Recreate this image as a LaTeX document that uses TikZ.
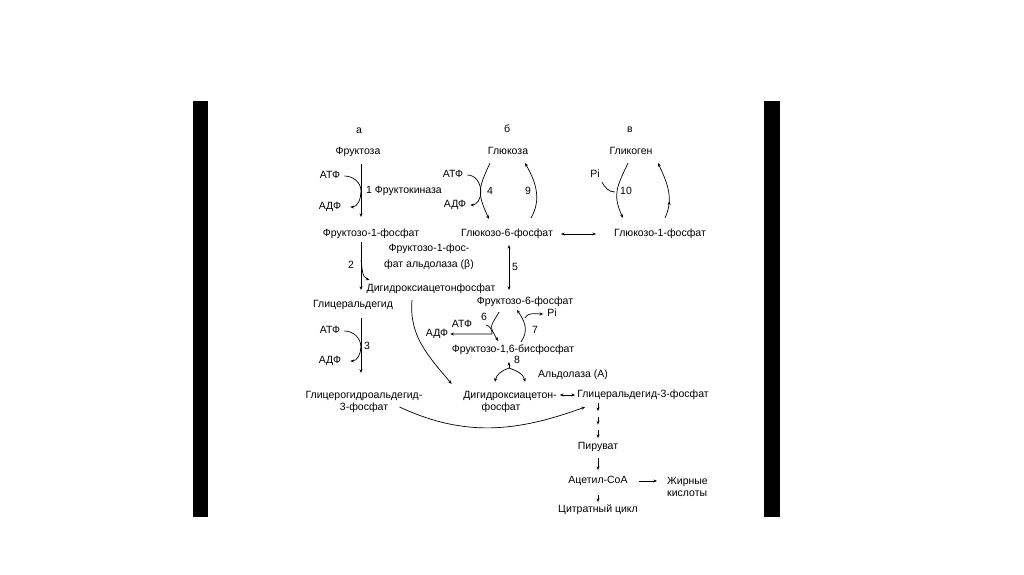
\documentclass[tikz,border=0pt]{standalone}
\usepackage{fontspec}
\setmainfont{Liberation Sans}
\usetikzlibrary{arrows.meta,decorations.markings}

\begin{document}
\begin{tikzpicture}[
	x=1pt,y=1pt,
	every node/.style={font=\fontsize{10.5}{12.5}\selectfont,inner sep=2pt,text height=7.5pt,text depth=2.2pt},
	two/.style={align=center,text height={},text depth={}},
	mtip/.tip={Stealth[length=3.6pt,width=3pt]},
	arr/.style={-mtip,line width=0.7pt},
	dbl/.style={mtip-mtip,line width=0.7pt},
	ln/.style={line width=0.7pt},
	midtip/.style={postaction={decorate},decoration={markings,mark=at position 0.3 with {\arrow{mtip}}}}
	]
	\fill[white] (0,0) rectangle (1024,574);
	\useasboundingbox (0,0) rectangle (1024,574);
	\fill[black] (193,57) rectangle (208,473);
	\fill[black] (764,57) rectangle (780,473);
	\def\atpturn#1#2#3{
		\draw[arr] ([xshift=2pt]#1.east) to[out=0,in=90] #2
		to[out=-90,in=0] ([xshift=7pt]#3.east);
	}
	\node (ha) at (359,443) {а};
	\node (hb) at (507,444) {б};
	\node (hv) at (630,444) {в};
	\node (fru) at (358,422) {Фруктоза};
	\node (glc) at (508,422) {Глюкоза};
	\node (gly) at (631,422) {Гликоген};
	\node (atp1) at (330,398) {АТФ};
	\node (adp1) at (330,367) {АДФ};
	\node[anchor=west] (fk) at (364,383) {1 Фруктокиназа};
	\node (f1p) at (371,340) {Фруктозо-1-фосфат};
	\node (atp4) at (453,399) {АТФ};
	\node (adp4) at (455,369) {АДФ};
	\node (n4) at (490,382) {4};
	\node (n9) at (528,382) {9};
	\node (g6p) at (507,340) {Глюкозо-6-фосфат};
	\node (g1p) at (660,340) {Глюкозо-1-фосфат};
	\node (pi10) at (595,399) {Pi};
	\node (n10) at (626,382) {10};
	\node (n2) at (351,308) {2};
	\node[two] (ald) at (429,317) {Фруктозо-1-фос-\\[3.5pt]фат альдолаза (β)};
	\node (dhap1) at (431,285) {Дигидроксиацетонфосфат};
	\node (n5) at (515,306) {5};
	\node (gla) at (353,269) {Глицеральдегид};
	\node (f6p) at (525,272) {Фруктозо-6-фосфат};
	\node (atp3) at (330,243) {АТФ};
	\node (adp3) at (330,213) {АДФ};
	\node (n3) at (367,227) {3};
	\node (atp6) at (462,249) {АТФ};
	\node (n6) at (484,256) {6};
	\node (adp6) at (437,240) {АДФ};
	\node (pi7) at (552,260) {Pi};
	\node (n7) at (535,243) {7};
	\node (fbp) at (513,224) {Фруктозо-1,6-бисфосфат};
	\node (n8) at (517,213) {8};
	\node (aldA) at (573,199) {Альдолаза (А)};
	\node[two] (dhap2) at (510,172) {Дигидроксиацетон-\\\hspace*{-18pt}фосфат};
	\node (gap) at (643,179) {Глицеральдегид-3-фосфат};
	\node[two] (glp) at (364,172) {Глицерогидроальдегид-\\3-фосфат};
	\node (pyr) at (598,127) {Пируват};
	\node (acoa) at (598,93) {Ацетил-CoA};
	\node[two,align=left,anchor=west] (fa) at (665,87) {Жирные\\кислоты};
	\node (cit) at (598,64) {Цитратный цикл};

	\draw[arr] ([xshift=3pt,yshift=-5pt]fru.south) -- ([xshift=-10pt,yshift=10pt]f1p.north);
	\atpturn{atp1}{([xshift=-3pt]fk.west)}{adp1}
	\draw[arr] ([xshift=-18pt,yshift=-4pt]glc.south) to[out=-115,in=115,looseness=1.3] ([xshift=-18pt,yshift=8pt]g6p.north);
	\draw[arr] ([xshift=2pt]atp4.east) to[out=0,in=90] ([xshift=-4pt]n4.west) to[out=-90,in=0] ([xshift=2pt]adp4.east);
	\draw[arr] ([xshift=24pt,yshift=9pt]g6p.north) to[out=60,in=-60] ([xshift=17pt,yshift=-4pt]glc.south);
	\draw[dbl,shorten <=6pt,shorten >=16pt] (g6p.east) -- (g1p.west);
	\draw[arr] ([xshift=-3pt,yshift=-4pt]gly.south) to[out=-115,in=115,looseness=1.2] ([xshift=-37pt,yshift=9pt]g1p.north);
	\draw[ln] (pi10.south east) to[out=-60,in=180] ([xshift=-3pt]n10.west);
	\draw[arr,midtip] ([xshift=5pt,yshift=9pt]g1p.north) to[out=65,in=-65] ([xshift=27pt,yshift=-4pt]gly.south);

	\draw[arr] ([xshift=-10pt,yshift=-1pt]f1p.south) -- ([xshift=8pt,yshift=8pt]gla.north);
	\draw[arr] ([xshift=-10pt,yshift=-19pt]f1p.south) to[out=-80,in=160] ([xshift=5pt,yshift=2pt]dhap1.north west);
	\draw[dbl] ([xshift=2pt,yshift=-4pt]g6p.south) -- ([xshift=-16pt,yshift=5pt]f6p.north);
	\draw[arr] ([xshift=8pt,yshift=-6pt]gla.south) -- ([xshift=-3pt,yshift=16pt]glp.north);
	\atpturn{atp3}{([xshift=-1pt]n3.west)}{adp3}
	\draw[arr] ([xshift=-19pt,yshift=-4pt]dhap1.south) to[out=-95,in=130] ([xshift=-9.5pt,yshift=5pt]dhap2.north west);

	\draw[arr] ([xshift=-26pt,yshift=-3pt]f6p.south) to[out=-120,in=120,looseness=1.6] ([xshift=-15pt,yshift=2pt]fbp.north);
	\coordinate (j6) at ([xshift=-21pt,yshift=9pt]fbp.north);
	\draw[ln] ([xshift=2pt]n6.south) to[out=-10,in=90] (j6);
	\draw[arr] (j6) -- (adp6.east);
	\draw[arr] ([xshift=8pt,yshift=1pt]fbp.north) to[out=55,in=-55,looseness=1.1] ([xshift=-8pt,yshift=-1pt]f6p.south);
	\draw[arr] ([xshift=-10pt,yshift=6pt]n7.north) to[out=60,in=180] ([xshift=-2pt]pi7.west);
	\coordinate (j8) at ([xshift=-4pt,yshift=-11pt]fbp.south);
	\draw[arr] (j8) -- ([xshift=-4pt,yshift=-5pt]fbp.south);
	\draw[arr] (j8) to[out=-160,in=80] ([xshift=-15pt,yshift=7pt]dhap2.north);
	\draw[arr] (j8) to[out=-20,in=100] ([xshift=15pt,yshift=7pt]dhap2.north);

	\draw[dbl] ([xshift=1pt,yshift=7pt]dhap2.east) -- (gap.west);
	\draw[arr] ([xshift=-25pt,yshift=-5pt]glp.east) to[out=-25,in=200] ([xshift=-58pt,yshift=-5pt]gap.south);
	\foreach \k in {0,1,2}
		\draw[arr] ([xshift=-45pt,yshift={-1pt-\k*13.5pt}]gap.south) -- ++(0,-8);
	\draw[arr] ([yshift=-4pt]pyr.south) -- ([yshift=4pt]acoa.north);
	\draw[arr] ([xshift=9pt]acoa.east) -- ([xshift=-8pt,yshift=6pt]fa.west);
	\draw[arr] ([yshift=-7pt]acoa.south) -- ([yshift=1pt]cit.north);
\end{tikzpicture}
\end{document}
